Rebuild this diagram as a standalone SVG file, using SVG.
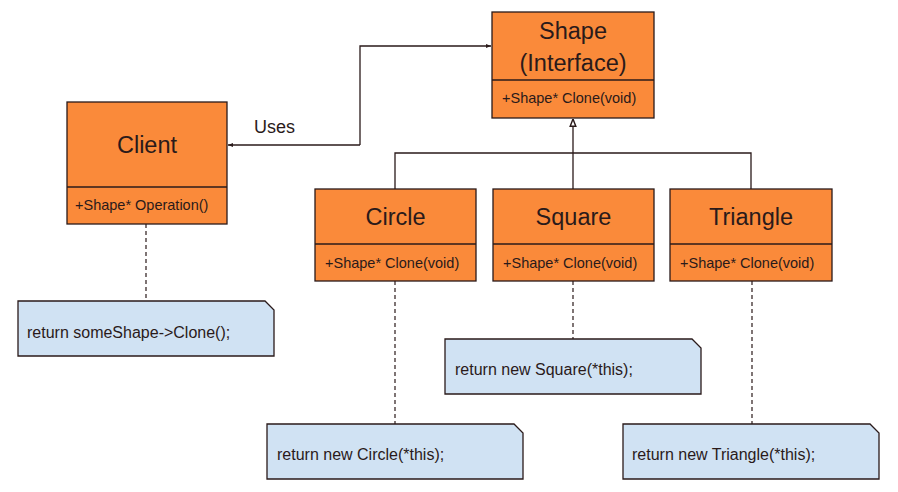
<svg xmlns="http://www.w3.org/2000/svg" width="898" height="492" viewBox="0 0 898 492">
<defs>
<style>
.box{fill:#fa8a3a;stroke:#2a1a1a;stroke-width:1.3}
.div{stroke:#2a1a1a;stroke-width:1.3}
.note{fill:#d0e2f3;stroke:#2a1a1a;stroke-width:1.3}
.title{font-family:"Liberation Sans",Arial,sans-serif;font-size:23.5px;fill:#2a1a1a;text-anchor:middle}
.mem{font-family:"Liberation Sans",Arial,sans-serif;font-size:14.5px;fill:#2a1a1a}
.ntxt{font-family:"Liberation Sans",Arial,sans-serif;font-size:16px;fill:#2a1a1a}
.lbl{font-family:"Liberation Sans",Arial,sans-serif;font-size:18px;fill:#2a1a1a}
.ln{fill:none;stroke:#2a1a1a;stroke-width:1.3}
.dash{fill:none;stroke:#2a1a1a;stroke-width:1.2;stroke-dasharray:4 3}
</style>
<marker id="arr" viewBox="0 0 10 10" refX="10" refY="5" markerWidth="5" markerHeight="5" orient="auto-start-reverse" markerUnits="userSpaceOnUse">
<path d="M0,1 L10,5 L0,9 Z" fill="#2a1a1a"/>
</marker>
<marker id="tri" viewBox="0 0 10 10" refX="10" refY="5" markerWidth="8" markerHeight="8" orient="auto" markerUnits="userSpaceOnUse">
<path d="M1,1.5 L10,5 L1,8.5 Z" fill="#fff" stroke="#2a1a1a" stroke-width="1.8"/>
</marker>
</defs>
<rect width="898" height="492" fill="#fff"/>

<g id="connectors">
<path class="ln" d="M360,145 L228,145" marker-end="url(#arr)"/>
<path class="ln" d="M360,145 L360,46 L491,46" marker-end="url(#arr)"/>
<path class="ln" d="M573,189 L573,119" marker-end="url(#tri)"/>
<path class="ln" d="M395,189 L395,153 L751,153 L751,189"/>
<line class="dash" x1="146" y1="224" x2="146" y2="301"/>
<line class="dash" x1="573" y1="281" x2="573" y2="339"/>
<line class="dash" x1="395" y1="281" x2="395" y2="424"/>
<line class="dash" x1="752" y1="281" x2="752" y2="424"/>
</g>
<text class="lbl" x="254" y="133">Uses</text>

<g id="shape">
<rect class="box" x="492" y="12" width="162" height="106"/>
<line class="div" x1="492" y1="80" x2="654" y2="80"/>
<text class="title" x="573" y="39">Shape</text>
<text class="title" x="573" y="71">(Interface)</text>
<text class="mem" x="502" y="103">+Shape* Clone(void)</text>
</g>

<g id="client">
<rect class="box" x="67" y="102" width="160" height="122"/>
<line class="div" x1="67" y1="187" x2="227" y2="187"/>
<text class="title" x="147" y="153">Client</text>
<text class="mem" x="75" y="210">+Shape* Operation()</text>
</g>

<g id="circle">
<rect class="box" x="315" y="189" width="161" height="92"/>
<line class="div" x1="315" y1="244" x2="476" y2="244"/>
<text class="title" x="395.5" y="225">Circle</text>
<text class="mem" x="325" y="268">+Shape* Clone(void)</text>
</g>

<g id="square">
<rect class="box" x="493" y="189" width="161" height="92"/>
<line class="div" x1="493" y1="244" x2="654" y2="244"/>
<text class="title" x="573.5" y="225">Square</text>
<text class="mem" x="503" y="268">+Shape* Clone(void)</text>
</g>

<g id="triangle">
<rect class="box" x="670" y="189" width="162" height="92"/>
<line class="div" x1="670" y1="244" x2="832" y2="244"/>
<text class="title" x="751" y="225">Triangle</text>
<text class="mem" x="680" y="268">+Shape* Clone(void)</text>
</g>

<g id="note-client">
<path class="note" d="M18,301 L265,301 L274,310 L274,356 L18,356 Z"/>
<text class="ntxt" x="27" y="338">return someShape-&gt;Clone();</text>
</g>

<g id="note-square">
<path class="note" d="M445,339 L692,339 L701,348 L701,394 L445,394 Z"/>
<text class="ntxt" x="455" y="375">return new Square(*this);</text>
</g>

<g id="note-circle">
<path class="note" d="M267,424 L514,424 L523,433 L523,479 L267,479 Z"/>
<text class="ntxt" x="277" y="460">return new Circle(*this);</text>
</g>

<g id="note-triangle">
<path class="note" d="M623,424 L870,424 L879,433 L879,479 L623,479 Z"/>
<text class="ntxt" x="632" y="460">return new Triangle(*this);</text>
</g>
</svg>
